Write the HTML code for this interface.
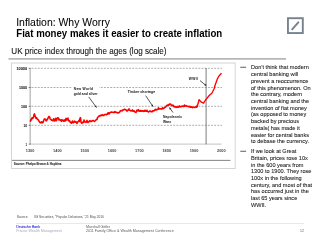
<!DOCTYPE html>
<html><head><meta charset="utf-8"><style>
html,body{margin:0;padding:0;background:#fff;width:320px;height:241px;overflow:hidden}
svg{position:absolute;left:0;top:0;}
text{font-family:"Liberation Sans", sans-serif}
</style></head><body>
<svg width="320" height="241" viewBox="0 0 320 241">
<defs><filter id="bl" x="0" y="0" width="320" height="241" filterUnits="userSpaceOnUse" color-interpolation-filters="sRGB"><feConvolveMatrix order="3" kernelMatrix="0 0 0 0 1 0 0 0 0" edgeMode="duplicate"/></filter></defs><rect width="320" height="241" fill="#fff"/><g filter="url(#bl)"><rect width="320" height="241" fill="#fff"/><text transform="translate(16.20,26.40) scale(0.1000,0.1050)" font-size="104.40" stroke="#000" stroke-width="0.50" fill="#000" >Inflation: Why Worry</text><text transform="translate(16.30,36.90) scale(0.1000,0.1100)" font-size="96.60" font-weight="bold" fill="#000" >Fiat money makes it easier to create inflation</text><rect x="287.95" y="18.2" width="14.85" height="14.85" fill="none" stroke="#76838f" stroke-width="1.9"/><line x1="292.2" y1="29.4" x2="298.3" y2="22.3" stroke="#76838f" stroke-width="1.9" stroke-linecap="round"/><text transform="translate(11.30,53.80) scale(0.1000,0.1080)" font-size="81.00" stroke="#111" stroke-width="0.80" fill="#111" >UK price index through the ages (log scale)</text><rect x="8.5" y="58.2" width="277.5" height="1.4" fill="#a6a6a6"/><rect x="11.5" y="63" width="223.7" height="105.5" fill="none" stroke="#d4d4d4" stroke-width="1"/><g stroke="#8a8a8a" stroke-width="0.7" stroke-dasharray="1.9 1.25"><line x1="31.5" y1="68.3" x2="222" y2="68.3"/><line x1="31.5" y1="87.5" x2="222" y2="87.5"/><line x1="31.5" y1="106.3" x2="222" y2="106.3"/><line x1="31.5" y1="125.3" x2="222" y2="125.3"/></g><line x1="30.2" y1="68.2" x2="30.2" y2="144.3" stroke="#bdbdbd" stroke-width="1.4"/><line x1="30" y1="144.1" x2="221.5" y2="144.1" stroke="#999" stroke-width="0.6"/><line x1="28.7" y1="68.3" x2="30.5" y2="68.3" stroke="#444" stroke-width="0.7"/><line x1="28.7" y1="87.5" x2="30.5" y2="87.5" stroke="#444" stroke-width="0.7"/><line x1="28.7" y1="106.3" x2="30.5" y2="106.3" stroke="#444" stroke-width="0.7"/><line x1="28.7" y1="125.3" x2="30.5" y2="125.3" stroke="#444" stroke-width="0.7"/><line x1="28.7" y1="144.1" x2="30.5" y2="144.1" stroke="#444" stroke-width="0.7"/><text transform="translate(16.50,70.10) scale(0.1000,0.1200)" font-size="36.00" font-weight="bold" textLength="105.00" lengthAdjust="spacingAndGlyphs" stroke="#222" stroke-width="0.60" fill="#222" >10000</text><text transform="translate(19.00,89.30) scale(0.1000,0.1200)" font-size="36.00" font-weight="bold" textLength="80.00" lengthAdjust="spacingAndGlyphs" stroke="#222" stroke-width="0.60" fill="#222" >1000</text><text transform="translate(21.00,108.10) scale(0.1000,0.1200)" font-size="36.00" font-weight="bold" textLength="60.00" lengthAdjust="spacingAndGlyphs" stroke="#222" stroke-width="0.60" fill="#222" >100</text><text transform="translate(23.50,127.10) scale(0.1000,0.1200)" font-size="36.00" font-weight="bold" textLength="35.00" lengthAdjust="spacingAndGlyphs" stroke="#222" stroke-width="0.60" fill="#222" >10</text><text transform="translate(25.60,145.90) scale(0.1000,0.1200)" font-size="36.00" font-weight="bold" textLength="14.00" lengthAdjust="spacingAndGlyphs" stroke="#222" stroke-width="0.60" fill="#222" >1</text><text transform="translate(25.80,151.80) scale(0.1000,0.1050)" font-size="35.00" font-weight="bold" textLength="86.00" lengthAdjust="spacingAndGlyphs" fill="#444" >1300</text><text transform="translate(53.12,151.80) scale(0.1000,0.1050)" font-size="35.00" font-weight="bold" textLength="86.00" lengthAdjust="spacingAndGlyphs" fill="#444" >1400</text><text transform="translate(80.44,151.80) scale(0.1000,0.1050)" font-size="35.00" font-weight="bold" textLength="86.00" lengthAdjust="spacingAndGlyphs" fill="#444" >1500</text><text transform="translate(107.76,151.80) scale(0.1000,0.1050)" font-size="35.00" font-weight="bold" textLength="86.00" lengthAdjust="spacingAndGlyphs" fill="#444" >1600</text><text transform="translate(135.08,151.80) scale(0.1000,0.1050)" font-size="35.00" font-weight="bold" textLength="86.00" lengthAdjust="spacingAndGlyphs" fill="#444" >1700</text><text transform="translate(162.40,151.80) scale(0.1000,0.1050)" font-size="35.00" font-weight="bold" textLength="86.00" lengthAdjust="spacingAndGlyphs" fill="#444" >1800</text><text transform="translate(189.72,151.80) scale(0.1000,0.1050)" font-size="35.00" font-weight="bold" textLength="86.00" lengthAdjust="spacingAndGlyphs" fill="#444" >1900</text><text transform="translate(217.04,151.80) scale(0.1000,0.1050)" font-size="35.00" font-weight="bold" textLength="86.00" lengthAdjust="spacingAndGlyphs" fill="#444" >2000</text><line x1="206.1" y1="68" x2="206.1" y2="144.3" stroke="#666" stroke-width="0.85"/><rect x="71.8" y="85.5" width="27.5" height="10" fill="#fff"/><rect x="162" y="113" width="21" height="11" fill="#fff"/><rect x="188" y="76" width="11" height="5" fill="#fff"/><text transform="translate(73.80,89.50) scale(0.1000,0.1250)" font-size="33.00" font-weight="bold" textLength="192.00" lengthAdjust="spacing" stroke="#333" stroke-width="0.60" fill="#333" >New World</text><text transform="translate(73.80,95.20) scale(0.1000,0.1250)" font-size="33.00" font-weight="bold" textLength="237.00" lengthAdjust="spacing" stroke="#333" stroke-width="0.60" fill="#333" >gold and silver</text><text transform="translate(127.70,93.40) scale(0.1000,0.1250)" font-size="33.00" font-weight="bold" textLength="273.00" lengthAdjust="spacing" stroke="#333" stroke-width="0.60" fill="#333" >Timber shortage</text><text transform="translate(163.00,117.70) scale(0.1000,0.1250)" font-size="33.00" font-weight="bold" textLength="190.00" lengthAdjust="spacing" stroke="#333" stroke-width="0.60" fill="#333" >Napoleonic</text><text transform="translate(163.00,123.40) scale(0.1000,0.1250)" font-size="33.00" font-weight="bold" textLength="80.00" lengthAdjust="spacing" stroke="#333" stroke-width="0.60" fill="#333" >Wars</text><text transform="translate(188.70,80.20) scale(0.1000,0.1250)" font-size="33.00" font-weight="bold" textLength="93.00" lengthAdjust="spacing" stroke="#333" stroke-width="0.60" fill="#333" >WWII</text><line x1="88.75" y1="96.9" x2="96.5" y2="107.5" stroke="#222" stroke-width="0.75"/><polygon points="96.5,107.5 94.57,106.56 96.19,105.38" fill="#222"/><line x1="145.6" y1="95.6" x2="153.1" y2="106.6" stroke="#222" stroke-width="0.75"/><polygon points="153.1,106.6 151.20,105.59 152.86,104.47" fill="#222"/><line x1="173" y1="112.5" x2="169.4" y2="107.5" stroke="#222" stroke-width="0.75"/><polygon points="169.4,107.5 171.32,108.46 169.70,109.63" fill="#222"/><line x1="200" y1="80.6" x2="206.25" y2="85.6" stroke="#222" stroke-width="0.75"/><polygon points="206.25,85.6 204.14,85.19 205.39,83.63" fill="#222"/><path d="M30.00,120.39 L30.50,121.13 L31.00,119.40 L31.50,119.83 L32.00,117.85 L32.50,118.28 L33.00,118.20 L33.50,117.21 L34.00,114.76 L34.50,113.84 L35.00,115.87 L35.50,116.72 L36.00,118.39 L36.50,117.73 L37.00,118.49 L37.50,119.15 L38.00,119.72 L38.50,119.99 L39.00,121.21 L39.50,121.70 L40.00,122.73 L40.50,122.50 L41.00,122.87 L41.50,121.90 L42.00,122.00 L42.50,122.65 L43.00,122.43 L43.50,121.01 L44.00,119.68 L44.50,118.88 L45.00,119.10 L45.50,119.25 L46.00,120.81 L46.50,120.75 L47.00,119.84 L47.50,119.03 L48.00,118.05 L48.50,117.23 L49.00,116.45 L49.50,116.81 L50.00,118.27 L50.50,119.45 L51.00,119.32 L51.50,120.07 L52.00,120.49 L52.50,120.42 L53.00,120.68 L53.50,118.88 L54.00,120.32 L54.50,121.03 L55.00,120.32 L55.50,118.44 L56.00,120.59 L56.50,120.57 L57.00,118.27 L57.50,117.74 L58.00,118.33 L58.50,118.06 L59.00,120.04 L59.50,119.94 L60.00,119.61 L60.50,120.39 L61.00,120.07 L61.50,121.29 L62.00,119.63 L62.50,120.38 L63.00,120.23 L63.50,121.23 L64.00,120.11 L64.50,119.86 L65.00,121.12 L65.50,120.65 L66.00,118.23 L66.50,119.95 L67.00,119.26 L67.50,119.54 L68.00,118.09 L68.50,120.55 L69.00,120.95 L69.50,120.67 L70.00,121.79 L70.50,122.54 L71.00,122.38 L71.50,123.31 L72.00,122.61 L72.50,121.11 L73.00,122.54 L73.50,122.63 L74.00,122.15 L74.50,121.14 L75.00,122.07 L75.50,122.18 L76.00,121.70 L76.50,122.24 L77.00,123.46 L77.50,122.40 L78.00,121.62 L78.50,121.53 L79.00,120.23 L79.50,121.36 L80.00,118.19 L80.50,117.72 L81.00,122.01 L81.50,122.91 L82.00,123.32 L82.50,122.25 L83.00,122.21 L83.50,122.47 L84.00,120.01 L84.50,121.85 L85.00,122.02 L85.50,122.01 L86.00,122.35 L86.50,121.19 L87.00,120.44 L87.50,122.06 L88.00,122.55 L88.50,121.71 L89.00,121.74 L89.50,120.83 L90.00,120.75 L90.50,121.40 L91.00,121.02 L91.50,121.43 L92.00,120.92 L92.50,120.70 L93.00,120.53 L93.50,120.65 L94.00,121.05 L94.50,121.47 L95.00,121.02 L95.50,120.52 L96.00,119.88 L96.50,119.50 L97.00,119.50 L97.50,117.62 L98.00,116.95 L98.50,116.81 L99.00,115.99 L99.50,115.81 L100.00,115.96 L100.50,115.32 L101.00,115.59 L101.50,115.35 L102.00,114.88 L102.50,114.84 L103.00,115.68 L103.50,115.03 L104.00,115.38 L104.50,114.64 L105.00,114.38 L105.50,114.45 L106.00,114.47 L106.50,114.68 L107.00,114.06 L107.50,114.28 L108.00,112.84 L108.50,112.81 L109.00,114.03 L109.50,113.13 L110.00,112.65 L110.50,112.47 L111.00,112.07 L111.50,112.00 L112.00,112.35 L112.50,112.18 L113.00,112.28 L113.50,112.39 L114.00,112.63 L114.50,112.33 L115.00,111.48 L115.50,111.96 L116.00,112.47 L116.50,112.51 L117.00,112.33 L117.50,112.68 L118.00,113.09 L118.50,112.52 L119.00,112.58 L119.50,112.15 L120.00,111.68 L120.50,110.71 L121.00,110.82 L121.50,110.75 L122.00,110.41 L122.50,110.77 L123.00,110.06 L123.50,109.82 L124.00,109.47 L124.50,109.30 L125.00,109.59 L125.50,109.51 L126.00,110.03 L126.50,110.27 L127.00,111.11 L127.50,110.60 L128.00,110.15 L128.50,109.91 L129.00,108.90 L129.50,109.92 L130.00,110.35 L130.50,110.65 L131.00,111.02 L131.50,110.66 L132.00,110.59 L132.50,109.96 L133.00,111.30 L133.50,111.24 L134.00,110.85 L134.50,111.43 L135.00,111.96 L135.50,112.09 L136.00,112.47 L136.50,111.08 L137.00,110.14 L137.50,110.88 L138.00,110.43 L138.50,109.57 L139.00,111.12 L139.50,111.26 L140.00,111.20 L140.50,110.47 L141.00,111.26 L141.50,111.04 L142.00,110.63 L142.50,110.84 L143.00,111.29 L143.50,110.86 L144.00,111.34 L144.50,111.20 L145.00,110.16 L145.50,111.14 L146.00,110.97 L146.50,111.12 L147.00,110.23 L147.50,111.42 L148.00,111.47 L148.50,112.00 L149.00,111.54 L149.50,111.18 L150.00,111.01 L150.50,111.03 L151.00,111.73 L151.50,111.70 L152.00,111.83 L152.50,111.15 L153.00,110.73 L153.50,111.00 L154.00,110.68 L154.50,110.50 L155.00,109.66 L155.50,109.31 L156.00,110.16 L156.50,109.63 L157.00,109.50 L157.50,109.52 L158.00,109.27 L158.50,107.77 L159.00,108.91 L159.50,108.76 L160.00,108.84 L160.50,108.68 L161.00,109.03 L161.50,108.78 L162.00,108.97 L162.50,107.75 L163.00,108.49 L163.50,108.59 L164.00,108.08 L164.50,107.66 L165.00,107.34 L165.50,107.16 L166.00,106.31 L166.50,105.86 L167.00,105.45 L167.50,105.05 L168.00,105.41 L168.50,104.66 L169.00,105.05 L169.50,104.17 L170.00,103.91 L170.50,104.20 L171.00,104.61 L171.50,105.38 L172.00,105.30 L172.50,105.67 L173.00,105.15 L173.50,106.49 L174.00,106.33 L174.50,106.81 L175.00,106.55 L175.50,106.85 L176.00,107.48 L176.50,106.89 L177.00,107.16 L177.50,106.91 L178.00,106.48 L178.50,107.13 L179.00,107.00 L179.50,105.93 L180.00,106.65 L180.50,106.92 L181.00,106.64 L181.50,106.45 L182.00,106.08 L182.50,106.17 L183.00,106.44 L183.50,105.99 L184.00,106.33 L184.50,105.04 L185.00,106.19 L185.50,105.87 L186.00,105.65 L186.50,106.10 L187.00,106.34 L187.50,106.31 L188.00,106.24 L188.50,106.69 L189.00,106.26 L189.50,106.86 L190.00,106.64 L190.50,107.27 L191.00,106.70 L191.50,107.12 L192.00,107.06 L192.50,107.60 L193.00,107.30 L193.50,107.30 L194.00,107.15 L194.50,107.47 L195.00,107.53 L195.50,106.85 L196.00,106.94 L196.50,107.26 L197.00,106.50 L197.50,105.15" fill="none" stroke="#f00" stroke-width="1.6" stroke-linejoin="round"/><path d="M196.50,107.26 L197.00,106.50 L197.50,105.15 L198.00,103.81 L198.50,102.03 L199.00,99.60 L199.50,100.17 L200.00,100.75 L200.50,101.33 L201.00,101.90 L201.50,102.16 L202.00,102.42 L202.50,102.68 L203.00,102.94 L203.50,103.20 L204.00,102.46 L204.50,101.72 L205.00,100.98 L205.50,100.24 L206.00,99.50 L206.50,98.87 L207.00,98.23 L207.50,97.60 L208.00,96.97 L208.50,96.33 L209.00,95.70 L209.50,95.25 L210.00,94.80 L210.50,94.35 L211.00,93.90 L211.50,93.45 L212.00,93.00 L212.50,92.00 L213.00,91.00 L213.50,90.00 L214.00,89.00 L214.50,87.25 L215.00,85.50 L215.50,84.10 L216.00,82.70 L216.50,81.33 L217.00,79.97 L217.50,78.60 L218.00,77.73 L218.50,76.87 L219.00,76.00 L219.50,75.42 L220.00,74.84 L220.50,74.26 L221.00,73.68 L221.50,73.10" fill="none" stroke="#f00" stroke-width="1.35" stroke-linejoin="round"/><rect x="12" y="159.9" width="218.5" height="0.8" fill="#666"/><text transform="translate(13.70,165.30) scale(0.1000,0.1200)" font-size="36.00" font-weight="bold" textLength="478.00" lengthAdjust="spacingAndGlyphs" stroke="#2a2a2a" stroke-width="0.80" fill="#2a2a2a" >Source: Phelps Brown &amp; Hopkins</text><rect x="240.3" y="66.8" width="5.8" height="0.8" fill="#333"/><text transform="translate(251.00,69.40) scale(0.1000,0.1080)" font-size="56.00" stroke="#222" stroke-width="0.80" fill="#222" >Don’t think that modern</text><text transform="translate(251.00,76.12) scale(0.1000,0.1080)" font-size="56.00" stroke="#222" stroke-width="0.80" fill="#222" >central banking will</text><text transform="translate(251.00,82.84) scale(0.1000,0.1080)" font-size="56.00" stroke="#222" stroke-width="0.80" fill="#222" >prevent a reoccurrence</text><text transform="translate(251.00,89.56) scale(0.1000,0.1080)" font-size="56.00" stroke="#222" stroke-width="0.80" fill="#222" >of this phenomenon. On</text><text transform="translate(251.00,96.28) scale(0.1000,0.1080)" font-size="56.00" stroke="#222" stroke-width="0.80" fill="#222" >the contrary, modern</text><text transform="translate(251.00,103.00) scale(0.1000,0.1080)" font-size="56.00" stroke="#222" stroke-width="0.80" fill="#222" >central banking and the</text><text transform="translate(251.00,109.72) scale(0.1000,0.1080)" font-size="56.00" stroke="#222" stroke-width="0.80" fill="#222" >invention of fiat money</text><text transform="translate(251.00,116.44) scale(0.1000,0.1080)" font-size="56.00" stroke="#222" stroke-width="0.80" fill="#222" >(as opposed to money</text><text transform="translate(251.00,123.16) scale(0.1000,0.1080)" font-size="56.00" stroke="#222" stroke-width="0.80" fill="#222" >backed by precious</text><text transform="translate(251.00,129.88) scale(0.1000,0.1080)" font-size="56.00" stroke="#222" stroke-width="0.80" fill="#222" >metals( has made it</text><text transform="translate(251.00,136.60) scale(0.1000,0.1080)" font-size="56.00" stroke="#222" stroke-width="0.80" fill="#222" >easier for central banks</text><text transform="translate(251.00,143.32) scale(0.1000,0.1080)" font-size="56.00" stroke="#222" stroke-width="0.80" fill="#222" >to debase the currency.</text><rect x="240.3" y="150.8" width="5.8" height="0.8" fill="#333"/><text transform="translate(251.00,153.10) scale(0.1000,0.1080)" font-size="56.00" stroke="#222" stroke-width="0.80" fill="#222" >If we look at Great</text><text transform="translate(251.00,159.82) scale(0.1000,0.1080)" font-size="56.00" stroke="#222" stroke-width="0.80" fill="#222" >Britain, prices rose 10x</text><text transform="translate(251.00,166.54) scale(0.1000,0.1080)" font-size="56.00" stroke="#222" stroke-width="0.80" fill="#222" >in the 600 years from</text><text transform="translate(251.00,173.26) scale(0.1000,0.1080)" font-size="56.00" stroke="#222" stroke-width="0.80" fill="#222" >1300 to 1900. They rose</text><text transform="translate(251.00,179.98) scale(0.1000,0.1080)" font-size="56.00" stroke="#222" stroke-width="0.80" fill="#222" >100x in the following</text><text transform="translate(251.00,186.70) scale(0.1000,0.1080)" font-size="56.00" stroke="#222" stroke-width="0.80" fill="#222" >century, and most of that</text><text transform="translate(251.00,193.42) scale(0.1000,0.1080)" font-size="56.00" stroke="#222" stroke-width="0.80" fill="#222" >has occurred just in the</text><text transform="translate(251.00,200.14) scale(0.1000,0.1080)" font-size="56.00" stroke="#222" stroke-width="0.80" fill="#222" >last 65 years since</text><text transform="translate(251.00,206.86) scale(0.1000,0.1080)" font-size="56.00" stroke="#222" stroke-width="0.80" fill="#222" >WWII.</text><text transform="translate(16.80,218.10) scale(0.1000,0.1000)" font-size="34.00" fill="#4a4a4a" >Source</text><text transform="translate(33.90,218.10) scale(0.1000,0.1000)" font-size="34.00" textLength="700.00" lengthAdjust="spacingAndGlyphs" fill="#4a4a4a" >IIG Securities, “Popular Delusions,” 21 May 2010</text><rect x="16" y="223.3" width="288" height="0.75" fill="#dedede"/><text transform="translate(16.20,228.30) scale(0.1000,0.1000)" font-size="35.00" textLength="237.00" lengthAdjust="spacingAndGlyphs" stroke="#3838d8" stroke-width="1.00" fill="#3838d8" >Deutsche Bank</text><text transform="translate(16.20,232.30) scale(0.1000,0.1000)" font-size="36.00" textLength="456.00" lengthAdjust="spacingAndGlyphs" fill="#a8a8b8" >Private Wealth Management</text><text transform="translate(86.00,228.30) scale(0.1000,0.1000)" font-size="36.00" textLength="240.00" lengthAdjust="spacingAndGlyphs" fill="#5a5a5a" >Marshall Gittler</text><text transform="translate(86.00,232.30) scale(0.1000,0.1000)" font-size="36.00" textLength="877.00" lengthAdjust="spacingAndGlyphs" fill="#5a5a5a" >2011 Family Office &amp; Wealth Management Conference</text><text transform="translate(300.00,232.30) scale(0.1000,0.1000)" font-size="34.00" textLength="38.00" lengthAdjust="spacingAndGlyphs" fill="#5a5a5a" >12</text></g>
</svg></body></html>
